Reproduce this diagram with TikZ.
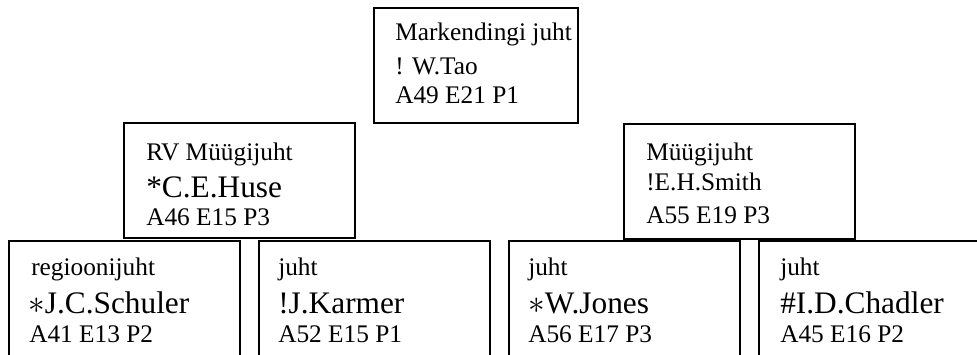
\documentclass[tikz,border=0pt]{standalone}
\usepackage{fontspec}
\setmainfont{Liberation Serif}
\usetikzlibrary{positioning}
\tikzset{post/.style={
        rectangle, draw=black, line width=1.5pt, inner sep=0pt, outer sep=0pt,
        minimum width=173.25pt, minimum height=86.25pt,
    }
}
\tikzset{
    role/.style={anchor=base west, inner sep=0pt, font=\fontsize{19}{22}\selectfont}, % title and code lines
    who/.style={role, font=\fontsize{23.5}{28}\selectfont}, % bigger name line
}

\begin{document}
\begin{tikzpicture}[x=0.75pt, y=-0.75pt]
        \useasboundingbox (0,0) rectangle (977,354);
        \clip (0,0) rectangle (977,354);
        % Boxes
        \node[post, anchor=north west, minimum width=153pt] (T) at (374,8) {};
        \node[post, anchor=north west] (ML) at (124,123) {};
        \node[post, anchor=north west] (MR) at (624,124) {};
        \node[post, anchor=north west] (B1) at (9,241) {};
        \node[post, right=14.25pt of B1] (B2) {};
        \node[post, right=14.25pt of B2] (B3) {};
        \node[post, right=14.25pt of B3] (B4) {};

        % Texts
        \node[role] (T-job) at ([shift={(21,32)}]T.north west) {Markendingi juht};
        \node[role] (T-who) at ([shift={(21,66)}]T.north west) {! W.Tao};
        \node[role] (T-code) at ([shift={(21,95)}]T.north west) {A49 E21 P1};

        \node[role] (ML-job) at ([shift={(22,37)}]ML.north west) {RV Müügijuht};
        \node[who] (ML-who) at ([shift={(22,74)}]ML.north west) {*C.E.Huse};
        \node[role] (ML-code) at ([shift={(22,102)}]ML.north west) {A46 E15 P3};

        \node[role] (MR-job) at ([shift={(22,36)}]MR.north west) {Müügijuht};
        \node[role] (MR-who) at ([shift={(22,66)}]MR.north west) {!E.H.Smith};
        \node[role] (MR-code) at ([shift={(22,99)}]MR.north west) {A55 E19 P3};

        \node[role] (B1-job) at ([shift={(22,34)}]B1.north west) {regioonijuht};
        \node[who] (B1-who) at ([shift={(19,72)}]B1.north west) {$\ast$J.C.Schuler};
        \node[role] (B1-code) at ([shift={(20,101)}]B1.north west) {A41 E13 P2};

        \node[role] (B2-job) at ([shift={(19,34)}]B2.north west) {juht};
        \node[who] (B2-who) at ([shift={(19,72)}]B2.north west) {!J.Karmer};
        \node[role] (B2-code) at ([shift={(19,101)}]B2.north west) {A52 E15 P1};

        \node[role] (B3-job) at ([shift={(19,34)}]B3.north west) {juht};
        \node[who] (B3-who) at ([shift={(19,72)}]B3.north west) {$\ast$W.Jones};
        \node[role] (B3-code) at ([shift={(19,101)}]B3.north west) {A56 E17 P3};

        \node[role] (B4-job) at ([shift={(21,34)}]B4.north west) {juht};
        \node[who] (B4-who) at ([shift={(21,72)}]B4.north west) {\#I.D.Chadler};
        \node[role] (B4-code) at ([shift={(21,101)}]B4.north west) {A45 E16 P2};
    \end{tikzpicture}
\end{document}
